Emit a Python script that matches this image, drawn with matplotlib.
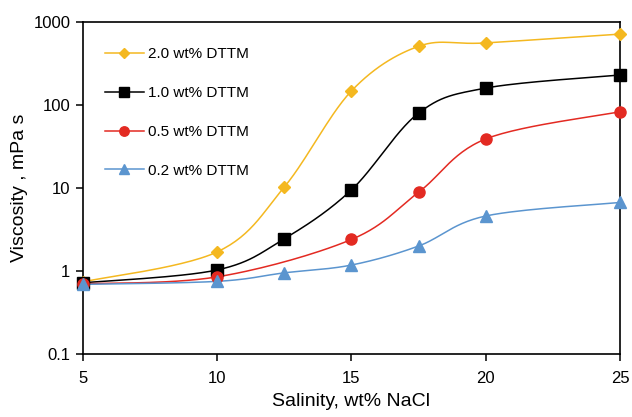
import matplotlib.pyplot as plt
import numpy as np

plt.rcParams['font.family'] = ['Liberation Sans', 'DejaVu Sans']

# data
sal_20 = [5, 10, 12.5, 15, 17.5, 20, 25]
visc_20 = [0.74, 1.7, 10.3, 148, 510, 560, 715]

sal_10 = [5, 10, 12.5, 15, 17.5, 20, 25]
visc_10 = [0.72, 1.03, 2.45, 9.5, 80, 160, 230]

sal_05 = [5, 10, 15, 17.5, 20, 25]
visc_05 = [0.70, 0.85, 2.4, 8.9, 39, 83]

sal_02 = [5, 10, 12.5, 15, 17.5, 20, 25]
visc_02 = [0.69, 0.75, 0.95, 1.18, 2.0, 4.6, 6.7]

labels = ['2.0 wt% DTTM', '1.0 wt% DTTM', '0.5 wt% DTTM', '0.2 wt% DTTM']
colors = ['#f4b820', 'black', '#e32a22', '#5b95cf']
markers = ['D', 's', 'o', '^']
msizes = [6, 8.5, 8, 8]


def smooth(x, y, n=30):
    # excel-like smoothed line: bezier through points, done in (x, log y)
    x = np.asarray(x, float)
    y = np.log10(np.asarray(y, float))
    px = np.concatenate([[x[0]], x, [x[-1]]])
    py = np.concatenate([[y[0]], y, [y[-1]]])
    xs, ys = [], []
    t = np.linspace(0, 1, n)
    for i in range(1, len(px) - 2):
        p0 = np.array([px[i], py[i]])
        p3 = np.array([px[i + 1], py[i + 1]])
        c1 = p0 + (p3 - np.array([px[i - 1], py[i - 1]])) / 6
        c2 = p3 - (np.array([px[i + 2], py[i + 2]]) - p0) / 6
        b = ((1 - t)**3)[:, None] * p0 + (3 * (1 - t)**2 * t)[:, None] * c1 \
            + (3 * (1 - t) * t**2)[:, None] * c2 + (t**3)[:, None] * p3
        xs.extend(b[:, 0])
        ys.extend(b[:, 1])
    return np.array(xs), 10 ** np.array(ys)


fig = plt.figure(figsize=(6.32, 4.17), dpi=100)
ax = fig.add_axes([0.1313, 0.1511, 0.8497, 0.7961])

series = [(sal_20, visc_20), (sal_10, visc_10), (sal_05, visc_05), (sal_02, visc_02)]
for (x, y), lab, c, m, ms in zip(series, labels, colors, markers, msizes):
    sx, sy = smooth(x, y)
    ax.plot(sx, sy, color=c, lw=1.1, zorder=2)
    ax.plot(x, y, ls='none', marker=m, color=c, ms=ms, zorder=3, clip_on=False)
    ax.plot([], [], color=c, lw=1.1, marker=m, ms=ms * 0.85, label=lab)

ax.set_yscale('log')
ax.set_ylim(0.1, 1000)
ax.set_xlim(5, 25)
ax.set_xticks([5, 10, 15, 20, 25])
ax.set_yticks([0.1, 1, 10, 100, 1000])
ax.set_yticklabels(['0.1', '1', '10', '100', '1000'])
ax.minorticks_off()
ax.tick_params(direction='out', length=5, width=1.1, labelsize=12, pad=4)
ax.tick_params(axis='x', pad=7)
for s in ax.spines.values():
    s.set_linewidth(1.2)

ax.set_xlabel('Salinity, wt% NaCl', fontsize=14, labelpad=5)
ax.set_ylabel('Viscosity , mPa s', fontsize=14, labelpad=4)

ax.legend(loc='upper left', frameon=False, fontsize=11, labelspacing=1.62,
          handlelength=2.5, handletextpad=0.3, bbox_to_anchor=(0.016, 0.965))

fig.savefig('out.png', dpi=100)
